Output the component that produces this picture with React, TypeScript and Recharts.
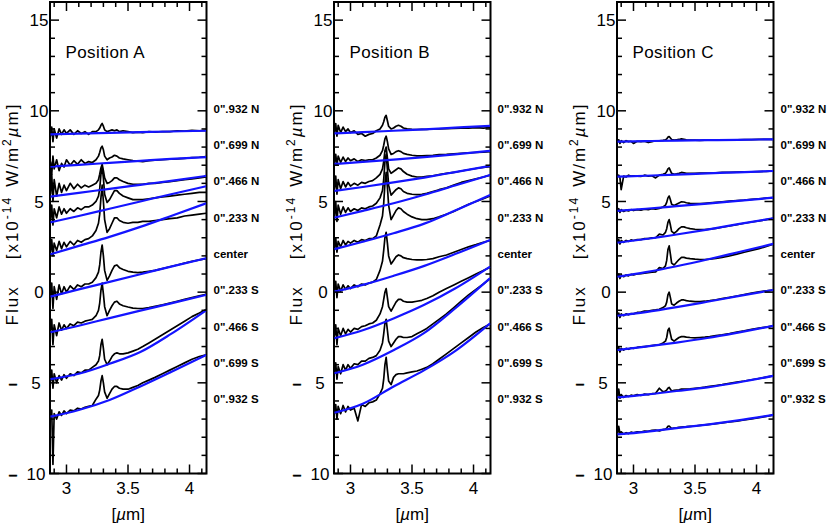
import { LineChart, Line, XAxis, YAxis, ReferenceArea, ReferenceLine } from 'recharts';

// wavelength grid (µm) shared by all spectra
const wave = [
  2.87, 2.88, 2.89, 2.9, 2.92, 2.94, 2.96, 2.98, 3.0, 3.03, 3.06, 3.09, 3.12, 3.15, 3.18, 3.21,
  3.24, 3.26, 3.27, 3.28, 3.29, 3.3, 3.31, 3.33, 3.35, 3.37, 3.39, 3.41, 3.43, 3.46, 3.5, 3.54,
  3.58, 3.62, 3.67, 3.72, 3.78, 3.84, 3.9, 3.96, 4.02, 4.08, 4.135,
];
// wavelengths where the continuum fits were read
const contWave = [2.87, 3.1, 3.35, 3.6, 3.85, 4.135];

const xTicks = [2.9, 3, 3.1, 3.2, 3.3, 3.4, 3.5, 3.6, 3.7, 3.8, 3.9, 4, 4.1];
const yTicks = [-10, -9, -8, -7, -6, -5, -4, -3, -2, -1, 0, 1, 2, 3, 4, 5, 6, 7, 8, 9, 10, 11, 12, 13, 14, 15];
const offsetTicks = [10, 8, 6, 4, 2, 0, -2, -4, -6];
const offsetLabels = ['0".932 N', '0".699 N', '0".466 N', '0".233 N', 'center', '0".233 S', '0".466 S', '0".699 S', '0".932 S'];

// ---- Position A ----
const a932N = [8.6, 9.1, 8.3, 9.0, 8.5, 9.0, 8.7, 8.95, 8.75, 8.95, 8.7, 8.9, 8.75, 8.85, 8.7, 8.85, 8.85, 8.95, 9.05, 9.2, 9.3, 9.15, 8.95, 8.85, 8.9, 8.95, 8.9, 8.95, 8.85, 8.9, 8.85, 8.8, 8.82, 8.8, 8.85, 8.82, 8.86, 8.85, 8.9, 8.88, 8.92, 8.9, 8.92];
const a699N = [7.2, 6.5, 7.5, 6.8, 7.3, 6.7, 7.1, 6.9, 7.3, 7.0, 7.25, 7.05, 7.3, 7.1, 7.2, 7.15, 7.3, 7.5, 7.7, 7.95, 8.05, 7.85, 7.5, 7.3, 7.4, 7.45, 7.55, 7.5, 7.4, 7.35, 7.3, 7.25, 7.22, 7.2, 7.25, 7.28, 7.3, 7.33, 7.35, 7.38, 7.42, 7.44, 7.47];
const a466N = [5.4, 6.5, 5.0, 6.2, 5.3, 6.0, 5.5, 5.9, 5.6, 6.0, 5.7, 5.95, 5.75, 5.9, 5.8, 5.9, 6.0, 6.2, 6.5, 6.85, 7.05, 6.7, 6.3, 6.0, 6.05, 6.15, 6.3, 6.3, 6.2, 6.1, 6.0, 5.95, 5.95, 5.95, 6.0, 6.0, 6.05, 6.1, 6.15, 6.2, 6.25, 6.3, 6.35];
const a233N = [4.0, 4.8, 3.7, 4.6, 4.1, 4.7, 4.3, 4.6, 4.35, 4.6, 4.45, 4.65, 4.55, 4.7, 4.7, 4.8, 5.0, 5.3, 5.7, 6.5, 6.9, 6.3, 5.4, 4.95, 5.1, 5.35, 5.6, 5.6, 5.45, 5.3, 5.2, 5.1, 5.1, 5.1, 5.15, 5.2, 5.25, 5.3, 5.35, 5.4, 5.45, 5.5, 5.5];
const aCen = [2.2, 2.9, 2.0, 2.7, 2.3, 2.8, 2.4, 2.75, 2.5, 2.8, 2.6, 2.85, 2.75, 2.9, 2.95, 3.1, 3.4, 3.8, 4.3, 5.2, 5.9, 5.0, 4.0, 3.3, 3.5, 3.8, 4.1, 4.1, 3.95, 3.85, 3.8, 3.85, 3.85, 3.9, 3.9, 3.95, 4.0, 4.05, 4.1, 4.2, 4.25, 4.3, 4.35];
const a233S = [-0.2, 0.5, -0.9, 0.3, -0.4, 0.4, -0.1, 0.3, 0.0, 0.35, 0.15, 0.4, 0.3, 0.45, 0.45, 0.55, 0.8, 1.1, 1.5, 2.2, 2.6, 2.0, 1.2, 0.65, 0.9, 1.2, 1.45, 1.5, 1.35, 1.25, 1.15, 1.1, 1.08, 1.1, 1.15, 1.2, 1.3, 1.4, 1.5, 1.6, 1.7, 1.78, 1.85];
const a466S = [-2.1, -1.5, -2.9, -1.8, -2.4, -1.7, -2.1, -1.8, -2.0, -1.75, -1.85, -1.65, -1.7, -1.6, -1.55, -1.5, -1.3, -1.0, -0.6, 0.1, 0.5, -0.1, -0.8, -1.3, -1.0, -0.75, -0.55, -0.5, -0.65, -0.75, -0.82, -0.88, -0.9, -0.9, -0.85, -0.78, -0.7, -0.6, -0.5, -0.4, -0.3, -0.2, -0.12];
const a699S = [-4.9, -4.3, -5.3, -4.5, -5.0, -4.6, -4.85, -4.55, -4.75, -4.5, -4.6, -4.4, -4.45, -4.3, -4.3, -4.15, -4.0, -3.8, -3.5, -2.9, -2.6, -3.1, -3.7, -4.0, -3.8, -3.55, -3.4, -3.35, -3.4, -3.4, -3.35, -3.25, -3.15, -3.0, -2.8, -2.6, -2.35, -2.1, -1.85, -1.6, -1.35, -1.15, -0.95];
const a932S = [-6.9, -6.5, -9.5, -6.7, -7.0, -6.6, -6.8, -6.55, -6.7, -6.5, -6.55, -6.4, -6.45, -6.35, -6.3, -6.25, -5.9, -5.7, -5.4, -4.9, -4.6, -5.0, -5.5, -5.85, -5.6, -5.35, -5.2, -5.2, -5.3, -5.35, -5.35, -5.25, -5.15, -5.0, -4.85, -4.7, -4.5, -4.3, -4.1, -3.9, -3.7, -3.55, -3.45];

const aC932N = [8.7, 8.74, 8.78, 8.82, 8.86, 8.9];
const aC699N = [6.92, 7.02, 7.13, 7.24, 7.35, 7.45];
const aC466N = [5.27, 5.47, 5.7, 5.92, 6.14, 6.41];
const aC233N = [3.85, 4.2, 4.6, 5.0, 5.4, 5.84];
const aCCen = [2.09, 2.55, 3.05, 3.6, 4.2, 4.9];
const aC233S = [-0.25, 0.15, 0.57, 0.99, 1.41, 1.87];
const aC466S = [-2.21, -1.85, -1.43, -1.02, -0.62, -0.15];
const aC699S = [-4.8, -4.5, -3.95, -3.3, -2.3, -1.0];
const aC932S = [-6.86, -6.5, -5.95, -5.2, -4.4, -3.46];

// ---- Position B ----
const b932N = [8.8, 9.3, 8.6, 9.2, 8.8, 9.1, 8.85, 9.0, 8.8, 8.9, 8.7, 8.75, 8.6, 8.7, 8.75, 8.9, 9.0, 9.2, 9.4, 9.65, 9.75, 9.45, 9.15, 9.0, 9.05, 9.15, 9.2, 9.15, 9.05, 9.0, 8.98, 8.97, 8.98, 8.97, 9.0, 9.0, 9.02, 9.03, 9.05, 9.05, 9.07, 9.05, 9.08];
const b699N = [7.1, 7.6, 7.0, 7.5, 7.15, 7.45, 7.2, 7.4, 7.25, 7.35, 7.2, 7.3, 7.25, 7.3, 7.3, 7.4, 7.55, 7.8, 8.1, 8.45, 8.6, 8.3, 7.9, 7.6, 7.65, 7.75, 7.8, 7.75, 7.65, 7.6, 7.55, 7.52, 7.52, 7.53, 7.55, 7.58, 7.6, 7.63, 7.66, 7.68, 7.7, 7.72, 7.75];
const b466N = [5.7, 6.4, 5.4, 6.2, 5.7, 6.1, 5.8, 6.05, 5.85, 6.0, 5.9, 6.05, 6.0, 6.1, 6.15, 6.3, 6.5, 6.8, 7.2, 7.8, 8.0, 7.4, 6.8, 6.55, 6.65, 6.75, 6.85, 6.8, 6.65, 6.5, 6.4, 6.35, 6.35, 6.38, 6.42, 6.48, 6.55, 6.6, 6.68, 6.75, 6.82, 6.88, 6.92];
const b233N = [4.2, 5.0, 3.9, 4.8, 4.3, 4.7, 4.4, 4.65, 4.45, 4.6, 4.5, 4.65, 4.6, 4.7, 4.75, 4.9, 5.2, 5.6, 6.2, 7.2, 7.6, 6.8, 5.9, 5.35, 5.5, 5.65, 5.75, 5.7, 5.55, 5.45, 5.4, 5.38, 5.4, 5.45, 5.55, 5.65, 5.75, 5.9, 6.05, 6.15, 6.25, 6.35, 6.45];
const bCen = [2.4, 3.0, 2.2, 2.8, 2.5, 2.85, 2.6, 2.8, 2.7, 2.85, 2.75, 2.9, 2.85, 2.95, 2.95, 3.1, 3.7, 4.2, 4.9, 6.0, 6.6, 5.8, 4.8, 4.0, 4.25, 4.5, 4.65, 4.6, 4.45, 4.3, 4.15, 4.05, 4.0, 4.0, 4.05, 4.15, 4.3, 4.45, 4.65, 4.85, 5.0, 5.15, 5.3];
const b233S = [0.1, 0.6, -0.3, 0.45, 0.05, 0.4, 0.15, 0.35, 0.2, 0.4, 0.3, 0.45, 0.4, 0.5, 0.55, 0.7, 1.2, 1.7, 2.3, 3.0, 3.3, 2.7, 2.0, 1.55, 1.75, 1.95, 2.05, 2.0, 1.9, 1.85, 1.8, 1.78, 1.78, 1.8, 1.85, 1.95, 2.05, 2.2, 2.35, 2.5, 2.62, 2.75, 2.85];
const b466S = [-2.4, -1.8, -2.9, -2.0, -2.4, -2.0, -2.3, -2.05, -2.2, -2.0, -2.05, -1.9, -1.85, -1.75, -1.7, -1.55, -1.2, -0.8, -0.4, 0.0, 0.2, -0.3, -0.8, -1.05, -0.8, -0.55, -0.4, -0.4, -0.5, -0.55, -0.55, -0.5, -0.45, -0.35, -0.2, 0.0, 0.2, 0.4, 0.6, 0.8, 1.0, 1.2, 1.38];
const b699S = [-4.4, -3.9, -4.8, -4.1, -4.5, -4.0, -4.3, -4.0, -4.2, -3.95, -4.0, -3.8, -3.8, -3.65, -3.6, -3.5, -3.2, -2.8, -2.3, -1.7, -1.5, -2.1, -2.7, -3.0, -2.8, -2.6, -2.45, -2.45, -2.5, -2.5, -2.45, -2.3, -2.15, -2.0, -1.75, -1.5, -1.2, -0.85, -0.5, -0.15, 0.15, 0.45, 0.75];
const b932S = [-6.7, -6.2, -7.0, -6.3, -6.7, -6.25, -6.6, -6.3, -6.5, -6.4, -7.1, -6.2, -6.3, -6.1, -6.05, -5.95, -5.6, -5.3, -4.8, -4.0, -3.6, -4.3, -4.9, -5.1, -4.7, -4.55, -4.5, -4.5, -4.5, -4.45, -4.4, -4.35, -4.25, -4.15, -3.95, -3.7, -3.4, -3.1, -2.8, -2.5, -2.2, -1.95, -1.75];

const bC932N = [8.76, 8.82, 8.9, 8.98, 9.07, 9.17];
const bC699N = [7.07, 7.18, 7.31, 7.45, 7.6, 7.79];
const bC466N = [5.58, 5.8, 6.05, 6.32, 6.62, 6.96];
const bC233N = [4.11, 4.48, 4.9, 5.37, 5.88, 6.46];
const bCCen = [2.37, 2.78, 3.25, 3.78, 4.5, 5.36];
const bC233S = [0.03, 0.4, 0.9, 1.45, 2.1, 2.88];
const bC466S = [-2.54, -2.1, -1.45, -0.7, 0.2, 1.41];
const bC699S = [-4.47, -4.0, -3.2, -2.25, -0.9, 0.77];
const bC932S = [-6.65, -6.15, -5.2, -4.3, -3.25, -1.72];

// ---- Position C ----
const c932N = [8.3, 8.4, 8.2, 8.35, 8.25, 8.35, 8.3, 8.32, 8.2, 8.32, 8.3, 8.33, 8.25, 8.3, 8.35, 8.35, 8.37, 8.4, 8.45, 8.55, 8.58, 8.5, 8.42, 8.38, 8.4, 8.42, 8.45, 8.43, 8.4, 8.38, 8.38, 8.37, 8.38, 8.38, 8.39, 8.39, 8.4, 8.4, 8.41, 8.41, 8.42, 8.42, 8.43];
const c699N = [6.4, 6.45, 6.3, 5.65, 6.4, 6.35, 6.45, 6.4, 6.42, 6.4, 6.38, 6.45, 6.4, 6.42, 6.3, 6.45, 6.5, 6.55, 6.65, 6.8, 6.85, 6.7, 6.55, 6.5, 6.52, 6.55, 6.6, 6.58, 6.55, 6.55, 6.55, 6.56, 6.56, 6.57, 6.58, 6.6, 6.61, 6.62, 6.63, 6.64, 6.65, 6.66, 6.68];
const c466N = [4.5, 4.6, 4.4, 4.55, 4.45, 4.52, 4.48, 4.55, 4.5, 4.55, 4.52, 4.58, 4.55, 4.6, 4.58, 4.62, 4.7, 4.8, 4.95, 5.2, 5.3, 5.1, 4.85, 4.78, 4.85, 4.92, 4.98, 4.97, 4.93, 4.9, 4.88, 4.88, 4.9, 4.92, 4.95, 4.98, 5.02, 5.05, 5.08, 5.12, 5.15, 5.18, 5.21];
const c233N = [2.75, 2.9, 2.65, 2.85, 2.75, 2.85, 2.8, 2.88, 2.85, 2.9, 2.9, 2.95, 2.95, 3.0, 3.0, 3.2, 3.15, 3.3, 3.5, 3.85, 4.0, 3.7, 3.35, 3.25, 3.35, 3.5, 3.6, 3.6, 3.55, 3.5, 3.47, 3.45, 3.45, 3.48, 3.52, 3.58, 3.65, 3.72, 3.8, 3.87, 3.93, 4.0, 4.07];
const cCen = [0.85, 1.0, 0.75, 0.95, 0.85, 0.95, 0.9, 0.98, 0.95, 1.0, 1.02, 1.05, 1.08, 1.1, 1.12, 1.35, 1.3, 1.45, 1.75, 2.35, 2.55, 2.1, 1.6, 1.5, 1.65, 1.8, 1.92, 1.92, 1.88, 1.85, 1.82, 1.8, 1.8, 1.82, 1.86, 1.92, 2.0, 2.1, 2.2, 2.3, 2.4, 2.52, 2.64];
const c233S = [-1.3, -1.15, -1.4, -1.2, -1.3, -1.2, -1.25, -1.18, -1.2, -1.12, -1.1, -1.05, -1.05, -1.0, -0.98, -0.95, -0.85, -0.75, -0.55, -0.15, 0.0, -0.3, -0.65, -0.72, -0.6, -0.5, -0.43, -0.43, -0.47, -0.5, -0.52, -0.52, -0.5, -0.47, -0.42, -0.36, -0.29, -0.21, -0.13, -0.05, 0.02, 0.07, 0.12];
const c466S = [-3.2, -3.05, -3.3, -3.1, -3.2, -3.1, -3.15, -3.08, -3.1, -3.05, -3.02, -3.0, -2.98, -2.95, -2.92, -2.9, -2.8, -2.7, -2.5, -2.1, -1.99, -2.3, -2.6, -2.7, -2.6, -2.5, -2.45, -2.45, -2.48, -2.5, -2.52, -2.5, -2.48, -2.45, -2.4, -2.35, -2.28, -2.2, -2.13, -2.05, -1.98, -1.92, -1.86];
const c699S = [-5.8, -5.35, -5.85, -5.65, -5.8, -5.7, -5.75, -5.68, -5.72, -5.65, -5.7, -5.62, -5.65, -5.6, -5.58, -5.3, -5.5, -5.45, -5.4, -5.3, -5.25, -5.35, -5.45, -5.42, -5.4, -5.38, -5.35, -5.35, -5.34, -5.33, -5.3, -5.27, -5.24, -5.2, -5.15, -5.1, -5.03, -4.96, -4.9, -4.83, -4.76, -4.69, -4.62];
const c932S = [-7.85, -7.4, -7.8, -7.7, -7.82, -7.75, -7.8, -7.72, -7.76, -7.7, -7.72, -7.66, -7.67, -7.62, -7.6, -7.65, -7.58, -7.55, -7.5, -7.4, -7.38, -7.45, -7.52, -7.5, -7.48, -7.45, -7.44, -7.43, -7.42, -7.4, -7.38, -7.35, -7.32, -7.29, -7.25, -7.21, -7.16, -7.11, -7.05, -6.99, -6.92, -6.85, -6.78];

const cC932N = [8.3, 8.33, 8.36, 8.38, 8.4, 8.43];
const cC699N = [6.37, 6.42, 6.48, 6.55, 6.61, 6.68];
const cC466N = [4.48, 4.6, 4.74, 4.88, 5.03, 5.21];
const cC233N = [2.73, 2.93, 3.18, 3.45, 3.75, 4.07];
const cCCen = [0.85, 1.1, 1.43, 1.8, 2.2, 2.66];
const cC233S = [-1.3, -1.1, -0.83, -0.53, -0.22, 0.12];
const cC466S = [-3.19, -3.0, -2.78, -2.53, -2.23, -1.86];
const cC699S = [-5.8, -5.65, -5.45, -5.25, -4.98, -4.62];
const cC932S = [-7.84, -7.7, -7.5, -7.3, -7.07, -6.77];

const X_MIN = 2.866;
const X_MAX = 4.138;
const Y_MIN = -10;
const Y_MAX = 16;

const PLOT_TOP = 2;
const PLOT_H = 471.5;
const PLOT_W = 156.5;
const AXIS_W = 50;
const SIDE_W = 77;
const XAXIS_H = 50;
const CHART_W = AXIS_W + PLOT_W + SIDE_W;
const CHART_H = 527;
const BLUE = '#1414ff';
const FONT = '"Liberation Sans", Arial, Helvetica, sans-serif';

function XTick(props: any) {
  const { x, payload } = props;
  const v = payload.value;
  const major = Math.abs(v * 2 - Math.round(v * 2)) < 1e-6;
  const len = major ? 9 : 5;
  const bottom = PLOT_TOP + PLOT_H;
  return (
    <g>
      <line x1={x} x2={x} y1={bottom} y2={bottom - len} stroke="#000" strokeWidth={1.5} />
      <line x1={x} x2={x} y1={PLOT_TOP} y2={PLOT_TOP + len} stroke="#000" strokeWidth={1.5} />
      {major && (
        <text x={x} y={bottom + 8} dy="0.71em" textAnchor="middle" fontSize={17} fill="#000">
          {String(v)}
        </text>
      )}
    </g>
  );
}

function YTick(props: any) {
  const { x, y, payload } = props;
  const v = payload.value;
  const major = v % 5 === 0;
  const len = major ? 9 : 5;
  const left = x + 5;
  const right = left + PLOT_W;
  let label = null;
  if (major && v < 0) {
    label = (
      <g>
        <text
          x={left - 42}
          y={y}
          dy="0.355em"
          textAnchor="start"
          fontSize={17}
          fill="#000"
          stroke="#000"
          strokeWidth={0.5}
          textLength={10}
          lengthAdjust="spacingAndGlyphs"
        >
          -
        </text>
        <text x={left - 14} y={y} dy="0.355em" textAnchor="middle" fontSize={17} fill="#000">{Math.abs(v)}</text>
      </g>
    );
  } else if (major) {
    label = (
      <text x={left - 11} y={y} dy="0.355em" textAnchor="middle" fontSize={17} fill="#000">{v}</text>
    );
  }
  return (
    <g>
      <line x1={left} x2={left + len} y1={y} y2={y} stroke="#000" strokeWidth={1.5} />
      <line x1={right} x2={right - len} y1={y} y2={y} stroke="#000" strokeWidth={1.5} />
      {label}
    </g>
  );
}

function SideLabel(props: any) {
  const { viewBox, text } = props;
  return (
    <text
      x={viewBox.x + viewBox.width + 7}
      y={viewBox.y - 2}
      dy="0.355em"
      textAnchor="start"
      fontSize={11.5}
      fontWeight="bold"
      fill="#000"
    >
      {text}
    </text>
  );
}

function YTitle(props: any) {
  const { viewBox } = props;
  const cx = viewBox.x + 18;
  const cy = 214;
  return (
    <text transform={`rotate(-90 ${cx} ${cy})`} x={cx} y={cy} textAnchor="middle" fontSize={17} fill="#000" letterSpacing={2}>
      Flux
      <tspan dx={26}>[x10</tspan>
      <tspan dy={-7} fontSize={12}>-14</tspan>
      <tspan dy={7} dx={9}>W/m</tspan>
      <tspan dy={-7} fontSize={12}>2</tspan>
      <tspan dy={7} fontStyle="italic">µ</tspan>
      m]
    </text>
  );
}

function XTitle(props: any) {
  const { viewBox } = props;
  return (
    <text x={viewBox.x + viewBox.width / 2} y={viewBox.y + 46} textAnchor="middle" fontSize={17} fill="#000">
      [<tspan fontStyle="italic">µ</tspan>m]
    </text>
  );
}

function PanelTitle(props: any) {
  const { viewBox, text } = props;
  return (
    <text x={viewBox.x + 15.5} y={viewBox.y + 56} fontSize={17} fill="#000" letterSpacing={0.4}>
      {text}
    </text>
  );
}

interface PanelProps {
  left: number;
  title: string;
  spectra: number[][];
  continua: number[][];
}

function Panel({ left, title, spectra, continua }: PanelProps) {
  const rows = wave.map((x, i) => {
    const r: Record<string, number> = { x };
    spectra.forEach((s, k) => (r['s' + k] = s[i]));
    return r;
  });
  const contRows = contWave.map((x, i) => {
    const r: Record<string, number> = { x };
    continua.forEach((c, k) => (r['c' + k] = c[i]));
    return r;
  });

  return (
    <div style={{ position: 'absolute', left, top: 0 }}>
      <LineChart
        width={CHART_W}
        height={CHART_H}
        data={rows}
        margin={{ top: PLOT_TOP, right: SIDE_W, bottom: CHART_H - PLOT_TOP - PLOT_H - XAXIS_H, left: 0 }}
      >
        <XAxis
          dataKey="x"
          type="number"
          domain={[X_MIN, X_MAX]}
          allowDataOverflow
          ticks={xTicks}
          interval={0}
          tickLine={false}
          axisLine={false}
          tickSize={0}
          tickMargin={8}
          height={XAXIS_H}
          tick={<XTick />}
          label={<XTitle />}
        />
        <YAxis
          type="number"
          domain={[Y_MIN, Y_MAX]}
          allowDataOverflow
          ticks={yTicks}
          interval={0}
          tickLine={false}
          axisLine={false}
          tickSize={0}
          tickMargin={5}
          width={AXIS_W}
          tick={<YTick />}
          label={<YTitle />}
        />
        <ReferenceArea
          x1={X_MIN}
          x2={X_MAX}
          y1={Y_MIN}
          y2={Y_MAX}
          fill="#fff"
          fillOpacity={0}
          stroke="#000"
          strokeWidth={2}
          label={<PanelTitle text={title} />}
        />
        {offsetTicks.map((v, k) => (
          <ReferenceLine key={'o' + k} y={v} stroke="#000" strokeOpacity={0} label={<SideLabel text={offsetLabels[k]} />} />
        ))}
        {spectra.map((_, k) => (
          <Line
            key={'s' + k}
            dataKey={'s' + k}
            type="linear"
            stroke="#000"
            strokeWidth={1.7}
            strokeLinejoin="round"
            dot={false}
            activeDot={false}
            isAnimationActive={false}
          />
        ))}
        {continua.map((_, k) => (
          <Line
            key={'c' + k}
            data={contRows}
            dataKey={'c' + k}
            type="monotone"
            stroke={BLUE}
            strokeWidth={2.2}
            dot={false}
            activeDot={false}
            isAnimationActive={false}
          />
        ))}
      </LineChart>
    </div>
  );
}

export default function App() {
  return (
    <div
      style={{
        position: 'absolute',
        left: 0,
        top: 0,
        width: 830,
        height: 527,
        overflow: 'hidden',
        background: '#fff',
        fontFamily: FONT,
      }}
    >
      <Panel
        left={0}
        title="Position A"
        spectra={[a932N, a699N, a466N, a233N, aCen, a233S, a466S, a699S, a932S]}
        continua={[aC932N, aC699N, aC466N, aC233N, aCCen, aC233S, aC466S, aC699S, aC932S]}
      />
      <Panel
        left={283.5}
        title="Position B"
        spectra={[b932N, b699N, b466N, b233N, bCen, b233S, b466S, b699S, b932S]}
        continua={[bC932N, bC699N, bC466N, bC233N, bCCen, bC233S, bC466S, bC699S, bC932S]}
      />
      <Panel
        left={567}
        title="Position C"
        spectra={[c932N, c699N, c466N, c233N, cCen, c233S, c466S, c699S, c932S]}
        continua={[cC932N, cC699N, cC466N, cC233N, cCCen, cC233S, cC466S, cC699S, cC932S]}
      />
    </div>
  );
}
